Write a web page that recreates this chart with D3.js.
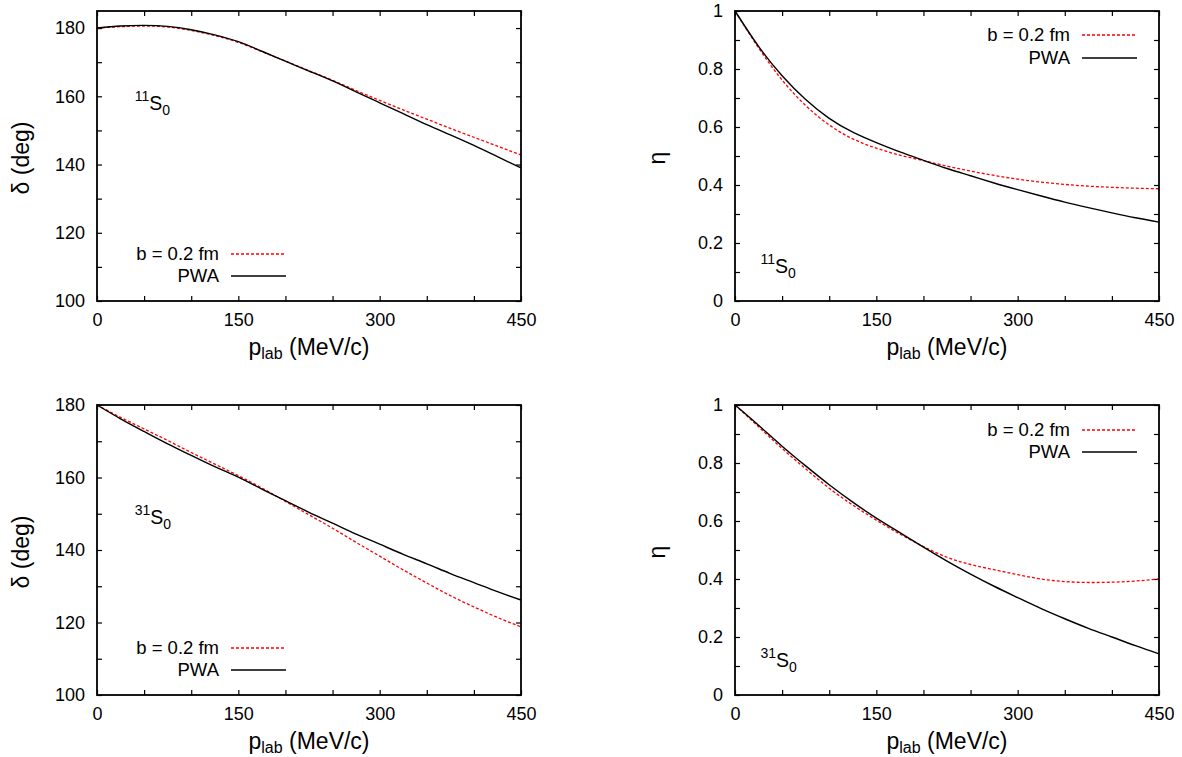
<!DOCTYPE html>
<html>
<head>
<meta charset="utf-8">
<script src="https://cdn.jsdelivr.net/npm/d3@7"></script>
<style>
  body { margin: 0; background: #fff; }
  svg { display: block; font-family: "Liberation Sans", Arial, sans-serif; }
</style>
</head>
<body>
<div id="chart"></div>
<script>
// momentum grid (MeV/c)
const pLab = [0, 25, 50, 75, 100, 125, 150, 175, 200, 225, 250, 275, 300, 325, 350, 375, 400, 425, 450];

// 11S0 phase shift (deg)
const delta11PWA = [180.0, 180.6, 180.8, 180.5, 179.5, 178.0, 176.0, 173.2, 170.3, 167.4, 164.5, 161.3, 158.1, 154.9, 151.7, 148.7, 145.6, 142.3, 139.0];
const delta11B02 = [180.0, 180.4, 180.6, 180.3, 179.3, 177.8, 175.8, 173.1, 170.3, 167.5, 164.7, 161.7, 158.8, 156.0, 153.3, 150.6, 148.0, 145.4, 142.8];

// 11S0 inelasticity
const eta11PWA = [1.0, 0.878, 0.777, 0.695, 0.63, 0.582, 0.546, 0.514, 0.485, 0.457, 0.432, 0.407, 0.384, 0.362, 0.341, 0.322, 0.304, 0.287, 0.272];
const eta11B02 = [1.0, 0.873, 0.762, 0.674, 0.607, 0.559, 0.527, 0.503, 0.484, 0.465, 0.448, 0.433, 0.42, 0.41, 0.402, 0.396, 0.392, 0.389, 0.387];

// 31S0 phase shift (deg)
const delta31PWA = [180.0, 176.2, 172.7, 169.3, 166.1, 163.0, 160.1, 156.8, 153.6, 150.4, 147.4, 144.4, 141.6, 138.8, 136.2, 133.5, 131.0, 128.5, 126.2];
const delta31B02 = [180.0, 176.6, 173.4, 170.2, 166.9, 163.7, 160.5, 157.1, 153.4, 149.7, 146.0, 142.1, 138.3, 134.5, 130.9, 127.4, 124.3, 121.4, 118.8];

// 31S0 inelasticity
const eta31PWA = [1.0, 0.93, 0.858, 0.79, 0.725, 0.665, 0.61, 0.56, 0.51, 0.462, 0.417, 0.375, 0.336, 0.298, 0.263, 0.23, 0.2, 0.17, 0.142];
const eta31B02 = [1.0, 0.925, 0.85, 0.78, 0.713, 0.655, 0.603, 0.555, 0.512, 0.475, 0.45, 0.432, 0.415, 0.40, 0.391, 0.388, 0.389, 0.393, 0.40];

// ticks
const xTicks = [0, 50, 100, 150, 200, 250, 300, 350, 400, 450];
const xTickLabels = [0, 150, 300, 450];
const legendNames = ["b = 0.2 fm", "PWA"];

const W = 1182, H = 757;
const svg = d3.select("#chart").append("svg")
    .attr("width", W)
    .attr("height", H);

const panels = [
  { left: 97, top: 11, yDomain: [100, 185], yStep: 10, yLabelStep: 20, yTitle: "δ (deg)", titleX: -68,
    pwa: delta11PWA, b02: delta11B02, wave: "11", labelAt: [40, 156], legendY: [254, 276] },
  { left: 735, top: 11, yDomain: [0, 1], yStep: 0.1, yLabelStep: 0.2, yTitle: "η", titleX: -70,
    pwa: eta11PWA, b02: eta11B02, wave: "11", labelAt: [27, 0.098], legendY: [35, 58] },
  { left: 97, top: 405, yDomain: [100, 180], yStep: 10, yLabelStep: 20, yTitle: "δ (deg)", titleX: -68,
    pwa: delta31PWA, b02: delta31B02, wave: "31", labelAt: [40, 147.2], legendY: [648, 670] },
  { left: 735, top: 405, yDomain: [0, 1], yStep: 0.1, yLabelStep: 0.2, yTitle: "η", titleX: -70,
    pwa: eta31PWA, b02: eta31B02, wave: "31", labelAt: [27, 0.097], legendY: [430, 452] }
];

const pw = 424, ph = 290;

panels.forEach(function(p) {
  let g = svg.append("g").attr("transform", "translate(" + p.left + "," + p.top + ")");

  let x = d3.scaleLinear().domain([0, 450]).range([0, pw]);
  let y = d3.scaleLinear().domain(p.yDomain).range([ph, 0]);

  let yTicks = d3.range(p.yDomain[0], p.yDomain[1] + 1e-9, p.yStep).map(v => +v.toFixed(2));
  let isLabelY = v => Math.abs(Math.round((v - p.yDomain[0]) / p.yLabelStep) * p.yLabelStep - (v - p.yDomain[0])) < 1e-6;
  let fmtY = v => isLabelY(v) ? String(+v.toFixed(1)) : "";
  let fmtX = v => xTickLabels.includes(v) ? String(v) : "";

  // axes, ticks pointing inward on all four sides
  let ax = [
    d3.axisBottom(x).tickValues(xTicks).tickFormat(fmtX).tickSize(-5).tickPadding(12),
    d3.axisTop(x).tickValues(xTicks).tickFormat("").tickSize(-5),
    d3.axisLeft(y).tickValues(yTicks).tickFormat(fmtY).tickSize(-5).tickPadding(12),
    d3.axisRight(y).tickValues(yTicks).tickFormat("").tickSize(-5)
  ];
  let offs = ["translate(0," + ph + ")", "translate(0,0)", "translate(0,0)", "translate(" + pw + ",0)"];
  ax.forEach(function(a, i) {
    let ag = g.append("g").attr("transform", offs[i]).call(a);
    ag.select(".domain").remove();
    ag.selectAll("line").attr("stroke", "#000").attr("stroke-width", 1.2);
    ag.selectAll("text").attr("font-size", 18).attr("fill", "#000")
      .attr("font-family", "'Liberation Sans', Arial, sans-serif");
  });

  let line = d3.line()
      .x((d, i) => x(pLab[i]))
      .y(d => y(d))
      .curve(d3.curveNatural);

  g.append("path").datum(p.b02)
      .attr("fill", "none").attr("stroke", "#ff0000").attr("stroke-width", 1.3)
      .attr("stroke-dasharray", "3,2").attr("d", line);
  g.append("path").datum(p.pwa)
      .attr("fill", "none").attr("stroke", "#000").attr("stroke-width", 1.4).attr("d", line);

  // frame
  g.append("rect").attr("width", pw).attr("height", ph)
      .attr("fill", "none").attr("stroke", "#000").attr("stroke-width", 1.8);

  // axis titles
  let xt = g.append("text")
      .attr("x", pw / 2).attr("y", ph + 54)
      .attr("text-anchor", "middle").attr("font-size", 23);
  xt.append("tspan").text("p");
  xt.append("tspan").attr("font-size", 16).attr("dy", 4).text("lab");
  xt.append("tspan").attr("dy", -4).text(" (MeV/c)");

  g.append("text")
      .attr("transform", "translate(" + p.titleX + "," + (ph / 2 + 2) + ") rotate(-90)")
      .attr("text-anchor", "middle").attr("font-size", 23)
      .text(p.yTitle);

  // partial wave label
  let lt = g.append("text")
      .attr("x", x(p.labelAt[0])).attr("y", y(p.labelAt[1]))
      .attr("font-size", 19.5);
  lt.append("tspan").attr("font-size", 14).attr("dy", -9).text(p.wave);
  lt.append("tspan").attr("dy", 9).text("S");
  lt.append("tspan").attr("font-size", 14).attr("dy", 5).text("0");

  // legend
  let isRight = p.left > 500;
  let lineX0 = isRight ? pw - 77 : 134;
  let styles = [
    { stroke: "#ff0000", dash: "3,2", w: 1.3 },
    { stroke: "#000", dash: null, w: 1.4 }
  ];
  legendNames.forEach(function(name, i) {
    let ly = p.legendY[i] - p.top;
    g.append("text")
        .attr("x", lineX0 - 12).attr("y", ly).attr("dy", "0.35em")
        .attr("text-anchor", "end").attr("font-size", 18.5)
        .text(name);
    g.append("line")
        .attr("x1", lineX0).attr("x2", lineX0 + 55)
        .attr("y1", ly).attr("y2", ly)
        .attr("stroke", styles[i].stroke).attr("stroke-width", styles[i].w)
        .attr("stroke-dasharray", styles[i].dash);
  });
});
</script>
</body>
</html>
